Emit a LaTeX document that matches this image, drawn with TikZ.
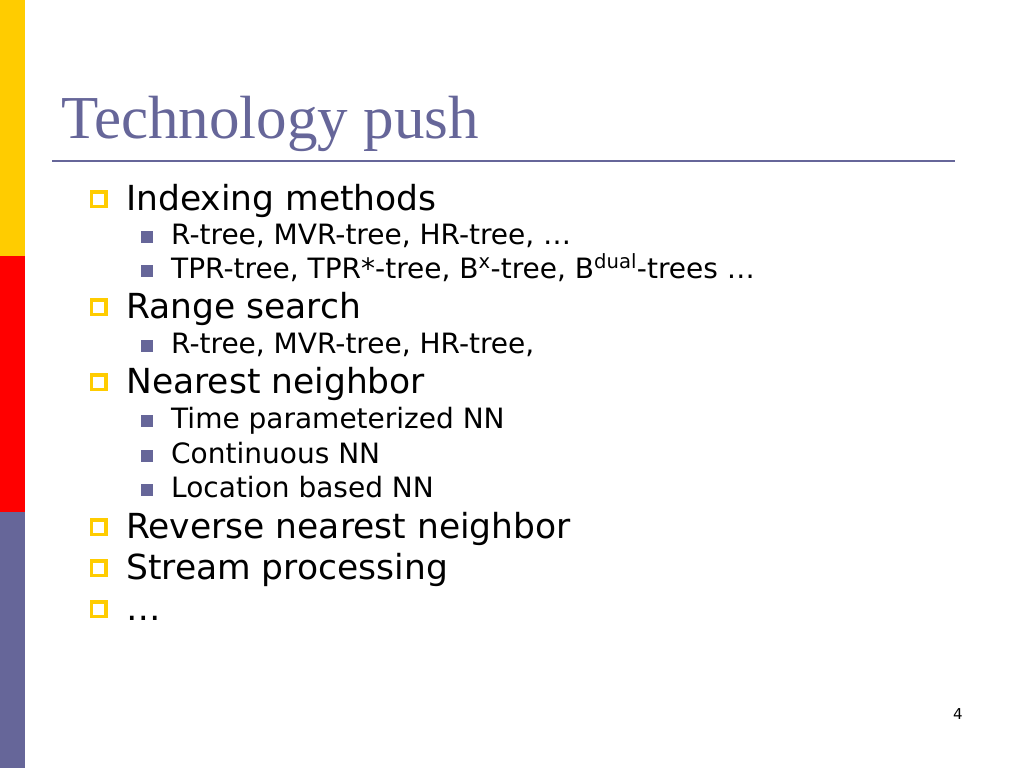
\documentclass[tikz,border=0pt]{standalone}
\usepackage{fontspec}
\setmainfont{DejaVu Sans}
\newfontfamily\titlefont{Liberation Serif}
\definecolor{slidepurple}{RGB}{102,102,153}
\definecolor{slideyellow}{RGB}{255,204,0}
\definecolor{slidered}{RGB}{255,0,0}
\begin{document}
\begin{tikzpicture}[x=1pt,y=-1pt,
  lone/.style={anchor=base west,inner sep=0pt,font=\fontsize{34.5}{40}\selectfont},
  ltwo/.style={anchor=base west,inner sep=0pt,font=\fontsize{28}{32}\selectfont},
  bone/.style={draw=slideyellow,line width=3.5pt,fill=white,minimum size=14.5pt,inner sep=0pt,anchor=south west},
  btwo/.style={fill=slidepurple,minimum size=12pt,inner sep=0pt,anchor=south west}]
\useasboundingbox (0,0) rectangle (1024,768);
\fill[white] (0,0) rectangle (1024,768);
% left bar
\fill[slideyellow] (0,0) rectangle (25,256);
\fill[slidered] (0,256) rectangle (25,512);
\fill[slidepurple] (0,512) rectangle (25,768);
% title
\node[anchor=base west,inner sep=0pt,text=slidepurple,font=\titlefont\fontsize{61}{70}\selectfont] (title) at (61,138) {Technology push};
\coordinate (rulea) at (52,161);
\coordinate (ruleb) at (955,161);
\draw[slidepurple,line width=2.2pt] (rulea) -- (ruleb);
% level 1 items
\foreach \n/\y/\t in {i1/210/Indexing methods, i2/318/Range search, i3/393/Nearest neighbor, i4/538/Reverse nearest neighbor, i5/579/Stream processing, i6/620/…}{
  \node[bone] (b\n) at (89.75,\y-1.75) {};
  \node[lone] (t\n) at (126,\y) {\t};
}
% level 2 items
\foreach \n/\y/\t in {s1/244/{R-tree, MVR-tree, HR-tree, …}, s2/278/{TPR-tree, TPR*-tree, B\textsuperscript{x}-tree, B\textsuperscript{dual}-trees …}, s3/353/{R-tree, MVR-tree, HR-tree,}, s4/428/{Time parameterized NN}, s5/463/{Continuous NN}, s6/497/{Location based NN}}{
  \node[btwo] (b\n) at (141,\y-1) {};
  \node[ltwo] (t\n) at (171,\y) {\t};
}
% page number
\node[anchor=base west,inner sep=0pt,font=\fontsize{15}{18}\selectfont] (pnum) at (953,719) {4};
\end{tikzpicture}
\end{document}
